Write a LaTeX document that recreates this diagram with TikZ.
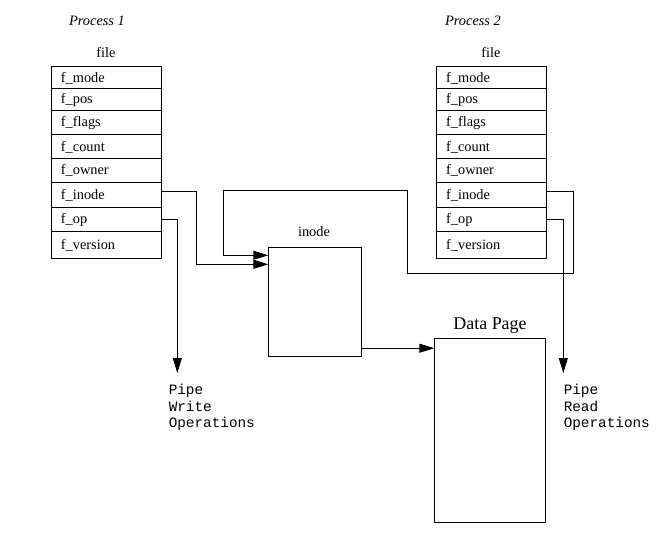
\documentclass[tikz,border=0pt]{standalone}
\usepackage{fontspec}
\setmainfont{Liberation Serif}
\setmonofont{Liberation Mono}
\usetikzlibrary{arrows.meta}

\begin{document}
\begin{tikzpicture}[x=1bp,y=-1bp,line width=0.9bp]
    \tikzstyle{every node}+=[inner sep=0pt,font=\fontsize{14.4}{16.5}\selectfont]
    \tikzstyle{field}=[draw,anchor=north west,text width=90bp,inner xsep=10bp,text height=11bp,text depth=2.4bp]
    \tikzstyle{box}=[draw,anchor=north west]
    \tikzstyle{pipetext}=[anchor=north west,align=left,font=\ttfamily\fontsize{14.4}{16.5}\selectfont]
    \tikzstyle{arr}=[-{Triangle[length=15bp,width=9bp]}]
    \useasboundingbox (0,0) rectangle (668,557);
    \node [anchor=base,font=\itshape\fontsize{14.4}{16.5}\selectfont] (proc1) at (97,26) {Process 1};
    \node [anchor=base] (file1) at (106,57.3) {file};
    \node [field,minimum height=21.8bp] (p1mode) at (50.5,66.5) {f\_mode};
    \node [field,minimum height=21.7bp] (p1pos) at (50.5,88.3) {f\_pos};
    \node [field,minimum height=24.3bp] (p1flags) at (50.5,110) {f\_flags};
    \node [field,minimum height=24bp] (p1count) at (50.5,134.3) {f\_count};
    \node [field,minimum height=23.4bp] (p1owner) at (50.5,158.3) {f\_owner};
    \node [field,minimum height=25.6bp] (p1inode) at (50.5,181.7) {f\_inode};
    \node [field,minimum height=23.4bp] (p1op) at (50.5,207.3) {f\_op};
    \node [field,minimum height=27.6bp] (p1version) at (50.5,230.7) {f\_version};
    \node [anchor=base,font=\itshape\fontsize{14.4}{16.5}\selectfont] (proc2) at (473,26) {Process 2};
    \node [anchor=base] (file2) at (491,57.3) {file};
    \node [field,minimum height=21.8bp] (p2mode) at (435.7,66.5) {f\_mode};
    \node [field,minimum height=21.7bp] (p2pos) at (435.7,88.3) {f\_pos};
    \node [field,minimum height=24.3bp] (p2flags) at (435.7,110) {f\_flags};
    \node [field,minimum height=24bp] (p2count) at (435.7,134.3) {f\_count};
    \node [field,minimum height=23.4bp] (p2owner) at (435.7,158.3) {f\_owner};
    \node [field,minimum height=25.6bp] (p2inode) at (435.7,181.7) {f\_inode};
    \node [field,minimum height=23.4bp] (p2op) at (435.7,207.3) {f\_op};
    \node [field,minimum height=27.6bp] (p2version) at (435.7,230.7) {f\_version};
    \node [box,minimum width=92.4bp,minimum height=109.3bp] (inode) at (268.3,246.7) {};
    \node [anchor=base] (inodelabel) at (314,237) {inode};
    \node [box,minimum width=110.4bp,minimum height=184bp] (datapage) at (434.3,337.7) {};
    \node [anchor=base,font=\fontsize{18}{20}\selectfont] (datalabel) at (490,329.3) {Data Page};
    \node [pipetext] (pwrite) at (168.3,384) {Pipe\\Write\\Operations};
    \node [pipetext] (pread) at (563.3,384) {Pipe\\Read\\Operations};
    \coordinate (inodeout) at ([yshift=8.7bp]inode.south east);
    \draw [arr] ([yshift=3.8bp]p1inode.east) -- ++(35,0) |- ([yshift=-17.6bp]inode.north west);
    \draw [arr] (p1op.east) -| ([xshift=9bp,yshift=11bp]pwrite.north west);
    \draw [arr] ([yshift=3.8bp]p2inode.east) -- ++(27,0) |- (407,273.3) |- (223.3,190.7) |- ([yshift=-8.6bp]inode.north west);
    \draw [arr] (p2op.east) -| ([yshift=11bp]pread.north west);
    \draw [arr] (inodeout) -- (inodeout -| datapage.west);
\end{tikzpicture}
\end{document}
